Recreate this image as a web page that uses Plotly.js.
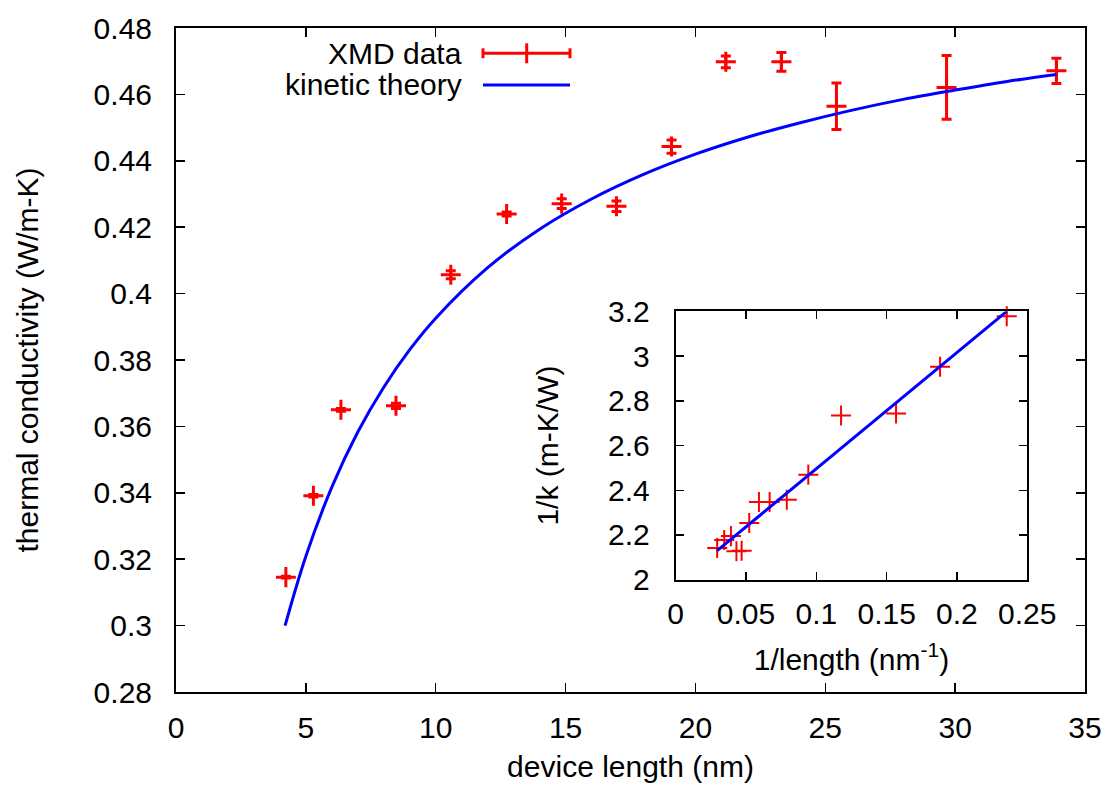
<!DOCTYPE html>
<html>
<head>
<meta charset="utf-8">
<script src="https://cdn.plot.ly/plotly-3.0.1.min.js"></script>
<style>html,body{margin:0;padding:0;background:#fff;}#chart{width:1111px;height:794px;}</style>
</head>
<body>
<div id="chart"></div>
<script>
// ---- main panel data ----
const deviceLength = [4.23, 5.29, 6.35, 8.47, 10.58, 12.73, 14.85, 16.96, 19.08, 21.17, 23.31, 25.43, 29.67, 33.9];
const conductivity = [0.3146, 0.3391, 0.365, 0.3662, 0.4057, 0.424, 0.4271, 0.4263, 0.4443, 0.4698, 0.4698, 0.4564, 0.4621, 0.4671];
const conductivityErr = [0.0003, 0.0004, 0.0004, 0.0008, 0.0012, 0.0006, 0.0015, 0.0016, 0.002, 0.0018, 0.0028, 0.007, 0.0096, 0.0038];

const theoryLength = [4.2, 5, 6, 7, 8, 9, 10, 12, 14, 16, 18, 20, 22, 24, 26, 28, 30, 32, 33.9];
const theoryK = [0.3000, 0.3209, 0.3417, 0.3583, 0.3718, 0.3831, 0.3926, 0.4078, 0.4194, 0.4285, 0.4359, 0.4420, 0.4471, 0.4514, 0.4552, 0.4585, 0.4613, 0.4639, 0.4660];

// ---- inset data ----
const invLength = [0.0295, 0.0345, 0.0393, 0.0432, 0.0469, 0.0523, 0.0592, 0.0668, 0.079, 0.0943, 0.1176, 0.1567, 0.188, 0.2354];
const invK = [2.142, 2.178, 2.195, 2.127, 2.130, 2.254, 2.348, 2.348, 2.358, 2.470, 2.734, 2.743, 2.952, 3.178];
const fitInvLength = [0.0295, 0.2354];
const fitInvK = [2.13, 3.2];

// ---- labels ----
const legendLabels = ["XMD data", "kinetic theory"];
const mainXTitle = "device length (nm)";
const mainYTitle = "thermal conductivity (W/m-K)";
const insetXTitle = "1/length (nm<sup>-1</sup>)";
const insetYTitle = "1/k (m-K/W)";

const FONT = "Liberation Sans, Arial, Helvetica, sans-serif";
const RED = "#ff0000", BLUE = "#0000ff";

const traces = [
  {
    x: deviceLength, y: conductivity, type: "scatter", mode: "markers",
    marker: {symbol: "cross-thin", size: 14.3, line: {color: RED, width: 3}, color: RED},
    error_y: {type: "data", array: conductivityErr, visible: true, color: RED, thickness: 3, width: 5},
    cliponaxis: false, showlegend: false, xaxis: "x", yaxis: "y"
  },
  {
    x: theoryLength, y: theoryK, type: "scatter", mode: "lines",
    line: {color: BLUE, width: 3, shape: "spline", smoothing: 1},
    showlegend: false, xaxis: "x", yaxis: "y"
  },
  {
    x: invLength, y: invK, type: "scatter", mode: "markers",
    marker: {symbol: "cross-thin", size: 14.3, line: {color: RED, width: 2}, color: RED},
    cliponaxis: false, showlegend: false, xaxis: "x2", yaxis: "y2"
  },
  {
    x: fitInvLength, y: fitInvK, type: "scatter", mode: "lines",
    line: {color: BLUE, width: 3},
    cliponaxis: false, showlegend: false, xaxis: "x2", yaxis: "y2"
  }
];

// pixel helpers for legend decoration (paper coordinates)
const L = 176, T = 28, W = 909, H = 664.3;
const px = v => (v - L) / W;
const py = v => (T + H - v) / H;

const sampleX0 = px(483), sampleX1 = px(570), sampleXm = px(526.7);
const row1 = 53.3, row2 = 85;

const layout = {
  width: 1111, height: 794,
  margin: {l: 176, r: 26, t: 28, b: 101.7, pad: 0},
  paper_bgcolor: "#fff", plot_bgcolor: "#fff",
  font: {family: FONT, size: 30, color: "#000"},
  showlegend: false,
  xaxis: {
    domain: [0, 1], range: [0, 35], dtick: 5, tick0: 0,
    showline: true, linecolor: "#000", linewidth: 2, mirror: "allticks",
    ticks: "inside", ticklen: 9, tickwidth: 1.5, tickcolor: "#000",
    showgrid: false, zeroline: false,
    tickfont: {family: FONT, size: 30, color: "#000"}, ticklabelstandoff: 8,
    title: {text: mainXTitle, font: {family: FONT, size: 30, color: "#000"}, standoff: 13},
    automargin: false
  },
  yaxis: {
    domain: [0, 1], range: [0.28, 0.48], dtick: 0.02, tick0: 0.28,
    showline: true, linecolor: "#000", linewidth: 2, mirror: "allticks",
    ticks: "inside", ticklen: 9, tickwidth: 1.5, tickcolor: "#000",
    showgrid: false, zeroline: false,
    tickfont: {family: FONT, size: 30, color: "#000"}, ticklabelstandoff: 16,
    title: {text: mainYTitle, font: {family: FONT, size: 30, color: "#000"}, standoff: 46},
    automargin: false
  },
  xaxis2: {
    domain: [0.5497, 0.9365], anchor: "y2", range: [0, 0.25], dtick: 0.05, tick0: 0,
    showline: true, linecolor: "#000", linewidth: 2, mirror: "allticks",
    ticks: "inside", ticklen: 8, tickwidth: 1.5, tickcolor: "#000",
    showgrid: false, zeroline: false,
    tickfont: {family: FONT, size: 30, color: "#000"}, ticklabelstandoff: 6,
    title: {text: insetXTitle, font: {family: FONT, size: 30, color: "#000"}, standoff: 20},
    automargin: false
  },
  yaxis2: {
    domain: [0.1691, 0.5732], anchor: "x2", range: [2, 3.2], dtick: 0.2, tick0: 2,
    showline: true, linecolor: "#000", linewidth: 2, mirror: "allticks",
    ticks: "inside", ticklen: 8, tickwidth: 1.5, tickcolor: "#000",
    showgrid: false, zeroline: false,
    tickfont: {family: FONT, size: 30, color: "#000"}, ticklabelstandoff: 18,
    title: {text: insetYTitle, font: {family: FONT, size: 30, color: "#000"}, standoff: 40},
    automargin: false
  },
  annotations: [
    {text: legendLabels[0], xref: "paper", yref: "paper", x: px(464), y: py(row1),
     xanchor: "right", yanchor: "middle", showarrow: false, font: {family: FONT, size: 30, color: "#000"}},
    {text: legendLabels[1], xref: "paper", yref: "paper", x: px(464), y: py(row2),
     xanchor: "right", yanchor: "middle", showarrow: false, font: {family: FONT, size: 30, color: "#000"}}
  ],
  shapes: [
    {type: "line", xref: "paper", yref: "paper", x0: sampleX0, x1: sampleX1, y0: py(row1), y1: py(row1), line: {color: RED, width: 3}},
    {type: "line", xref: "paper", yref: "paper", x0: sampleX0, x1: sampleX0, y0: py(row1 - 5), y1: py(row1 + 5), line: {color: RED, width: 3}},
    {type: "line", xref: "paper", yref: "paper", x0: sampleX1, x1: sampleX1, y0: py(row1 - 5), y1: py(row1 + 5), line: {color: RED, width: 3}},
    {type: "line", xref: "paper", yref: "paper", x0: sampleXm, x1: sampleXm, y0: py(row1 - 10), y1: py(row1 + 10), line: {color: RED, width: 3}},
    {type: "line", xref: "paper", yref: "paper", x0: sampleX0, x1: sampleX1, y0: py(row2), y1: py(row2), line: {color: BLUE, width: 3}}
  ]
};

Plotly.newPlot("chart", traces, layout, {staticPlot: true, displayModeBar: false});
</script>
</body>
</html>
